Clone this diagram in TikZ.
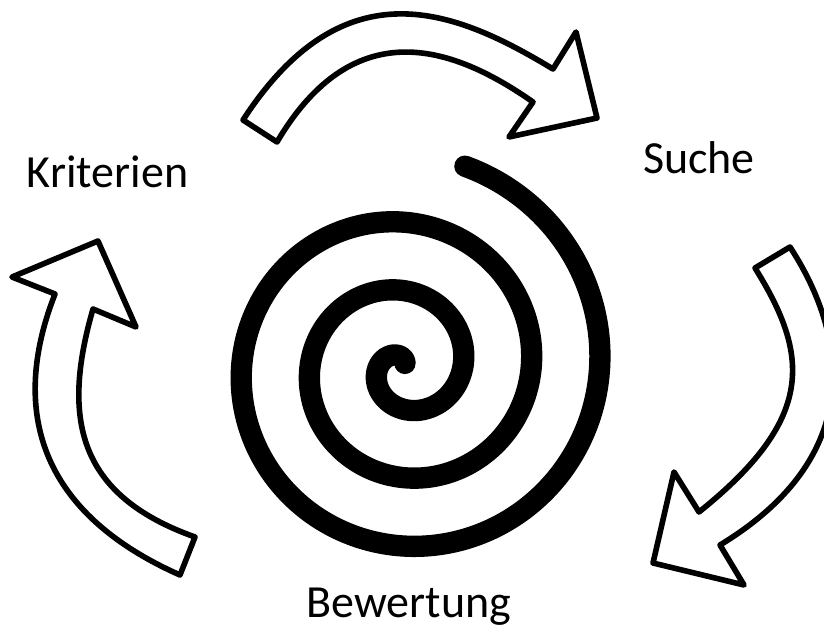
\documentclass[tikz,border=0pt]{standalone}
\usepackage{fontspec}
\setmainfont{Carlito}
\usepackage{tikz}

\begin{document}
\begin{tikzpicture}[x=0.75pt, y=-0.75pt,
  blockarrow/.style={draw=black, fill=white, line width=4.2pt, line join=round},
  coil/.style={draw=black, line width=16pt, line cap=round},
  phase/.style={font=\fontsize{34.5}{41}\selectfont, anchor=base}]

  \useasboundingbox (0,0) rectangle (824,628);
  \clip (0,0) rectangle (824,628);

  % Kriterien -> Suche
  \draw[blockarrow] (243,120) .. controls (345,-37) and (457,11) .. (553,69)
    -- (576,32) -- (597,118) -- (509,137) -- (533,102)
    .. controls (455,47.5) and (355,10) .. (277,142) -- cycle;

  % Suche -> Bewertung
  \draw[blockarrow] (790,247) .. controls (841,325) and (875,451) .. (720,545)
    -- (744,585) -- (653,563) -- (674,472) -- (699,512)
    .. controls (815,419) and (810,356) .. (755,268) -- cycle;

  % Bewertung -> Kriterien
  \draw[blockarrow] (180,575) .. controls (40,513) and (9,411) .. (55,294)
    -- (12,277) -- (98,241) -- (136,327) -- (93,309)
    .. controls (61.5,418) and (77,495) .. (195,537) -- cycle;

  % spiral
  \draw[coil] plot[domain=0:1085, samples=400, smooth, variable=\t]
    ({403.5+(210-0.19*\t)*cos(73-\t)}, {367-(210-0.19*\t)*sin(73-\t)});

  \node[phase] (kriterien) at (107.5,187) {Kriterien};
  \node[phase] (suche) at (699,173) {Suche};
  \node[phase] (bewertung) at (409,617) {Bewertung};

\end{tikzpicture}
\end{document}
